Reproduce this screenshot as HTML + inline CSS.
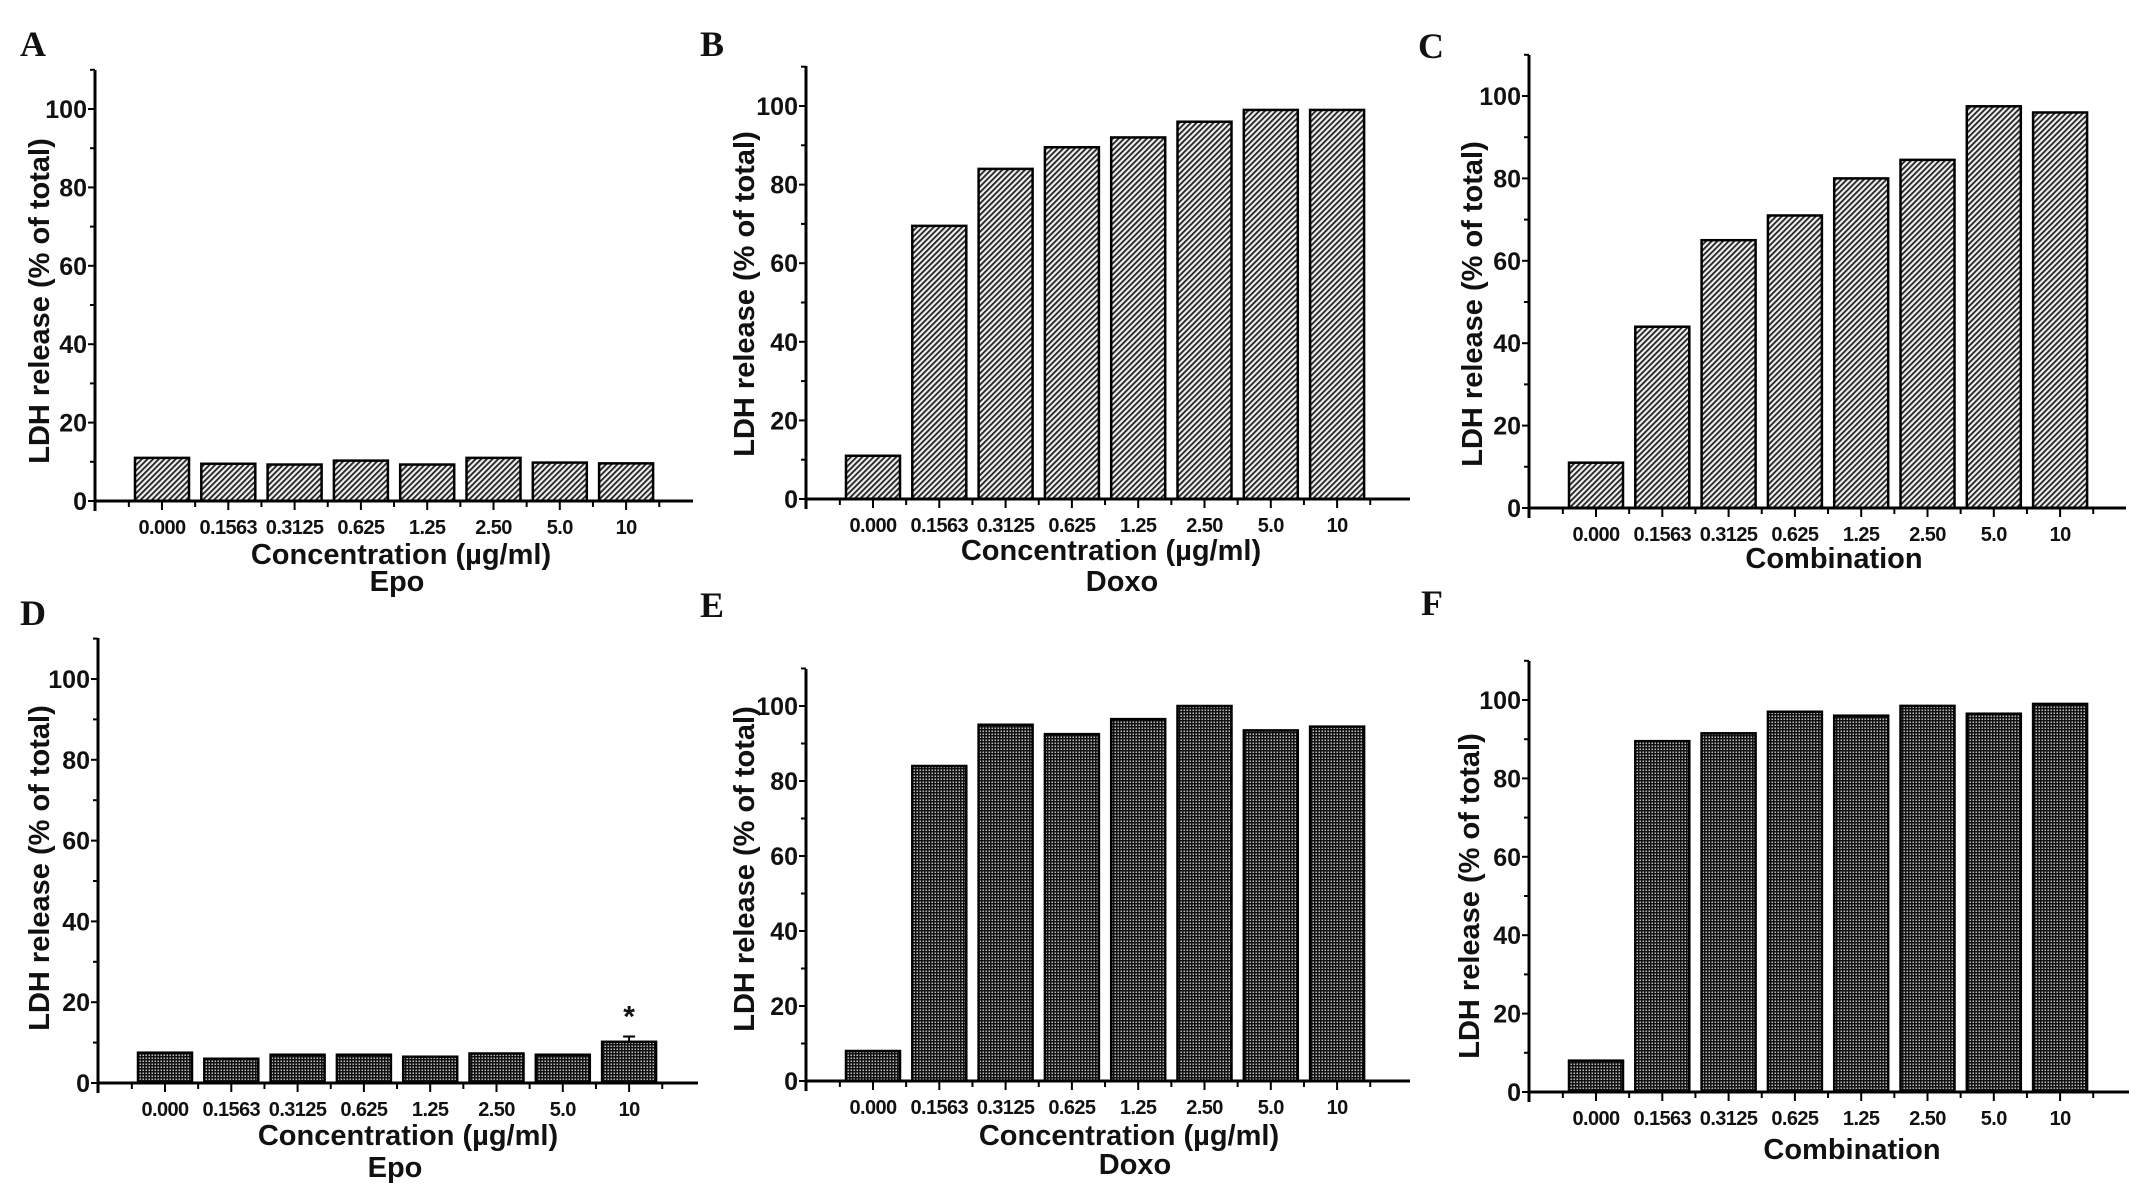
<!DOCTYPE html>
<html><head><meta charset="utf-8"><style>
html,body{margin:0;padding:0;background:#fff;}
svg{display:block;}
text{font-family:"Liberation Sans",Arial,sans-serif;font-weight:bold;fill:#111;}
.lbl{font-family:"Liberation Serif",serif;font-size:36px;}
</style></head><body>
<svg id="fig" width="2141" height="1194" viewBox="0 0 2141 1194" xmlns="http://www.w3.org/2000/svg">
<defs>
<pattern id="hatch" patternUnits="userSpaceOnUse" width="4" height="4" patternTransform="rotate(-45)">
<rect width="4" height="4" fill="#eee"/><rect width="4" height="1.8" fill="#222"/>
</pattern>
<pattern id="grid" patternUnits="userSpaceOnUse" width="3" height="3">
<rect width="3" height="3" fill="#bbb"/><rect width="1.5" height="3" fill="#111"/><rect width="3" height="1.5" fill="#111"/>
</pattern>
</defs>
</svg>
<script>
const categories = ["0.000","0.1563","0.3125","0.625","1.25","2.50","5.0","10"];
const yTicks = [0,20,40,60,80,100];
const valuesA = [11,9.5,9.3,10.3,9.3,11,9.8,9.6];
const valuesB = [11,69.5,84,89.5,92,96,99,99];
const valuesC = [11,44,65,71,80,84.5,97.5,96];
const valuesD = [7.5,6,7,7,6.5,7.3,7,10.2];
const errorD = [0,0,0,0,0,0,0,1.3];
const valuesE = [8,84,95,92.5,96.5,100,93.5,94.5];
const valuesF = [8,89.5,91.5,97,96,98.5,96.5,99];

const panels = [
 {id:"a",letter:"A",lx:20,ly:56,ax:95,y0:501,y100:109,top:70,xend:693,fill:"hatch",vals:valuesA,err:null,yt:[40,301],xt:[401,555,"Concentration (µg/ml)"],sub:[397,582,"Epo"]},
 {id:"b",letter:"B",lx:700,ly:56,ax:806,y0:499,y100:106,top:66,xend:1410,fill:"hatch",vals:valuesB,err:null,yt:[745,294],xt:[1111,551,"Concentration (µg/ml)"],sub:[1122,582,"Doxo"]},
 {id:"c",letter:"C",lx:1418,ly:58,ax:1529,y0:508,y100:96,top:55,xend:2126,fill:"hatch",vals:valuesC,err:null,yt:[1473,304],xt:[1834,559,"Combination"],sub:null},
 {id:"d",letter:"D",lx:20,ly:625,ax:98,y0:1083,y100:679,top:638,xend:698,fill:"grid",vals:valuesD,err:errorD,yt:[40,868],xt:[408,1136,"Concentration (µg/ml)"],sub:[395,1168,"Epo"]},
 {id:"e",letter:"E",lx:700,ly:617,ax:806,y0:1081,y100:706,top:669,xend:1410,fill:"grid",vals:valuesE,err:null,yt:[745,869],xt:[1129,1136,"Concentration (µg/ml)"],sub:[1135,1165,"Doxo"]},
 {id:"f",letter:"F",lx:1421,ly:615,ax:1529,y0:1092,y100:700,top:661,xend:2129,fill:"grid",vals:valuesF,err:null,yt:[1470,896],xt:[1852,1150,"Combination"],sub:null}
];
const NS="http://www.w3.org/2000/svg";
const svg=document.getElementById("fig");
function mk(tag,attrs,parent,txt){const e=document.createElementNS(NS,tag);for(const k in attrs)e.setAttribute(k,attrs[k]);if(txt!==undefined)e.textContent=txt;parent.appendChild(e);return e;}
const PITCH=66.3, BARW=54, OFF=40;
panels.forEach(p=>{
 const g=mk("g",{},svg);
 
 
 const yS=v=>p.y0-(p.y0-p.y100)*v/100;
 const xC=i=>p.ax+OFF+BARW/2+i*PITCH;
 const L=mk("text",{x:p.lx,y:p.ly,class:"lbl"},g,p.letter);
 
 
 p.vals.forEach((v,i)=>{
  const r=mk("rect",{x:xC(i)-BARW/2,y:yS(v),width:BARW,height:p.y0-yS(v),fill:"url(#"+p.fill+")",stroke:"#000","stroke-width":2.5},g);
  
  
  if(p.err&&p.err[i]>0){
   const ey=yS(v+p.err[i]);
   const el=mk("path",{d:`M${xC(i)} ${yS(v)}V${ey}M${xC(i)-6} ${ey}H${xC(i)+6}`,stroke:"#000","stroke-width":2,fill:"none"},g);
   
   
   const st=mk("text",{x:xC(i),y:ey-10,"text-anchor":"middle","font-size":30},g,"*");
   
   
  }
 });
 const ya=mk("line",{x1:p.ax,y1:p.top,x2:p.ax,y2:p.y0+10,stroke:"#000","stroke-width":3},g);
 
 
 const xa=mk("line",{x1:p.ax-1,y1:p.y0,x2:p.xend,y2:p.y0,stroke:"#000","stroke-width":3},g);
 
 
 for(let v=0;v<=110;v+=10){
  const maj=v%20===0;
  mk("line",{x1:p.ax-(maj?7:5),y1:yS(v),x2:p.ax,y2:yS(v),stroke:"#000","stroke-width":2},g);
 }
 yTicks.forEach(v=>{
  const t=mk("text",{x:p.ax-8,y:yS(v)+9,"text-anchor":"end","font-size":25},g,String(v));
  
  
 });
 for(let i=0;i<=categories.length;i++){
  const x=xC(i)-PITCH/2;
  mk("line",{x1:x,y1:p.y0,x2:x,y2:p.y0+6,stroke:"#000","stroke-width":2},g);
 }
 categories.forEach((c,i)=>{
  mk("line",{x1:xC(i),y1:p.y0,x2:xC(i),y2:p.y0+9,stroke:"#000","stroke-width":2},g);
  const t=mk("text",{x:xC(i),y:p.y0+33,"text-anchor":"middle","font-size":20,"letter-spacing":"-0.6"},g,c);
  
  
 });
 const yt=mk("text",{x:0,y:0,"text-anchor":"middle","dominant-baseline":"central","font-size":29,transform:`translate(${p.yt[0]},${p.yt[1]}) rotate(-90)`},g,"LDH release (% of total)");
 
 
 const xt=mk("text",{x:p.xt[0],y:p.xt[1],"text-anchor":"middle","dominant-baseline":"central","font-size":29},g,p.xt[2]);
 
 
 if(p.sub){
  const s=mk("text",{x:p.sub[0],y:p.sub[1],"text-anchor":"middle","dominant-baseline":"central","font-size":29},g,p.sub[2]);
  
  
 }
});
</script>
</body></html>
